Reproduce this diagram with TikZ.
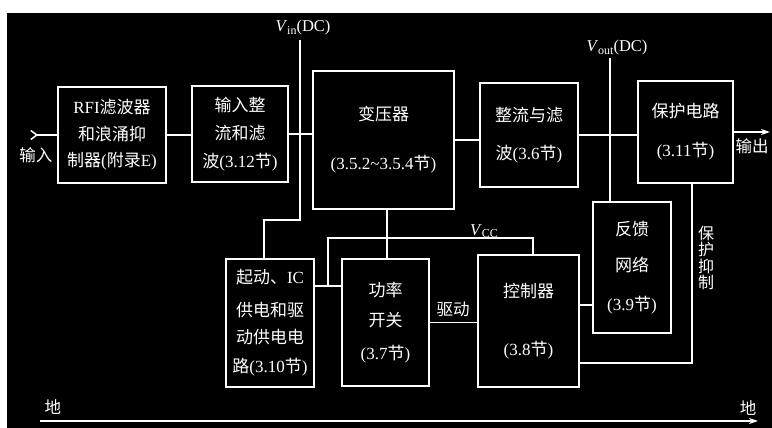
\documentclass[tikz,border=0pt]{standalone}
\usepackage{fontspec}
\setmainfont{Liberation Serif}
\newfontfamily\cjk{Noto Sans CJK SC}
\newcommand\zh[1]{{\cjk #1}}
\newcommand\sub[1]{\raisebox{-0.35ex}{\fontsize{12}{12}\selectfont #1}}
\usetikzlibrary{arrows.meta,calc}
\begin{document}
\begin{tikzpicture}[x=1pt,y=-1pt,
  wire/.style={draw=white,line width=1.5pt},
  box/.style={draw=white,line width=1.5pt,text=white,align=center,inner sep=0pt,
    font=\fontsize{17}{21}\selectfont},
  lbl/.style={text=white,inner sep=0pt,align=center,font=\fontsize{16.5}{20}\selectfont},
  tailtip/.style={{Straight Barb[reversed,length=6pt,width=9pt]}-},
  headtip/.style={-{Stealth[length=9pt,width=6pt]}}]
\useasboundingbox (0,0) rectangle (772,428);
\fill[white] (0,0) rectangle (772,428);
\fill[black] (7,13) rectangle (772,428);

% boxes
\node[box,minimum width=108pt,minimum height=96pt] (rfi) at (112,135)
  {RFI\zh{滤波器}\\[5.5pt]\zh{和浪涌抑}\\[5.5pt]\zh{制器}(\zh{附录}E)};
\node[box,minimum width=96pt,minimum height=96pt] (rect) at (240,134)
  {\zh{输入整}\\[7pt]\zh{流和滤}\\[7pt]\zh{波}(3.12\zh{节})};
\node[box,minimum width=141pt,minimum height=138pt] (trans) at (383.5,140)
  {\zh{变压器}\\[28pt](3.5.2\textasciitilde3.5.4\zh{节})};
\node[box,minimum width=98pt,minimum height=104pt] (rf) at (529,135)
  {\zh{整流与滤}\\[17pt]\zh{波}(3.6\zh{节})};
\node[box,minimum width=95pt,minimum height=102pt] (prot) at (685.5,132)
  {\zh{保护电路}\\[18pt](3.11\zh{节})};
\node[box,minimum width=78pt,minimum height=131pt] (fb) at (632,267.5)
  {\zh{反馈}\\[15pt]\zh{网络}\\[18pt](3.9\zh{节})};
\node[box,minimum width=101pt,minimum height=132pt] (ctrl) at (528.5,321)
  {\zh{控制器}\\[37pt](3.8\zh{节})};
\node[box,minimum width=87pt,minimum height=127pt] (sw) at (385.5,322.5)
  {\zh{功率}\\[9pt]\zh{开关}\\[12pt](3.7\zh{节})};
\node[box,minimum width=88pt,minimum height=128pt] (start) at (270,323)
  {\zh{起动、}IC\\[12pt]\zh{供电和驱}\\[6pt]\zh{动供电电}\\[8pt]\zh{路}(3.10\zh{节})};

% free ends and junctions
\coordinate (inL) at (30,135);
\coordinate (outR) at (770,133);
\coordinate (gL) at (40,421);
\coordinate (gR) at (758,421);
\coordinate (vinT) at (300,40);
\coordinate (vinB) at (300,220);
\coordinate (voutT) at (610,58);
\coordinate (vccJ) at (328,286);
\coordinate (vccT) at (328,238);
\coordinate (protJ) at (692,363);

% connectors
\draw[wire,tailtip] (inL) -- (rfi.west);
\draw[wire] (rfi.east) -- (rfi.east -| rect.west);
\draw[wire] (rect.east) -- (rect.east -| trans.west);
\draw[wire] (trans.east) -- (trans.east -| rf.west);
\draw[wire] (rf.east) -- (rf.east -| prot.west);
\draw[wire,headtip] (prot.east) -- (prot.east -| outR);
\draw[wire] (vinT) -- (vinB) -| ($(start.north)+(-6,0)$);
\draw[wire] (voutT) -- (voutT |- fb.north);
\draw[wire] ($(trans.south)+(3.5,0)$) -- ($(sw.north)+(1.5,0)$);
\draw[wire] (vccJ -| start.east) -- (vccJ -| sw.west);
\draw[wire] (vccJ) -- (vccT) -| ($(ctrl.north)+(4.5,0)$);
\draw[wire] (sw.east) -- (sw.east -| ctrl.west);
\draw[wire] ($(fb.south west)+(0,-29)$) -- ($(ctrl.south east)+(0,-83)$);
\draw[wire] ($(prot.south)+(6.5,0)$) -- (protJ) -- (protJ -| ctrl.east);
\draw[wire] ($(sw.south)+(2.5,0)$) -- ($(sw.south)+(2.5,0)$ |- gL);
\draw[wire,tailtip,headtip] (gL) -- (gR);

% labels
\node[lbl] (vin) at (303,28) {\textit{V}\sub{in}(DC)};
\node[lbl] (vout) at (617,48) {\textit{V}\sub{out}(DC)};
\node[lbl] (vcc) at (484,231) {\textit{V}\sub{CC}};
\node[lbl] (lin) at (36,155) {\zh{输入}};
\node[lbl] (lout) at (752,146) {\zh{输出}};
\node[lbl] (gnd1) at (53,407) {\zh{地}};
\node[lbl] (gnd2) at (748,408) {\zh{地}};
\node[lbl] (drv) at (453,309) {\zh{驱动}};
\node[lbl,font=\fontsize{16}{16.5}\selectfont] (pinh) at (706,258)
  {\zh{保}\\\zh{护}\\\zh{抑}\\\zh{制}};
\end{tikzpicture}
\end{document}
